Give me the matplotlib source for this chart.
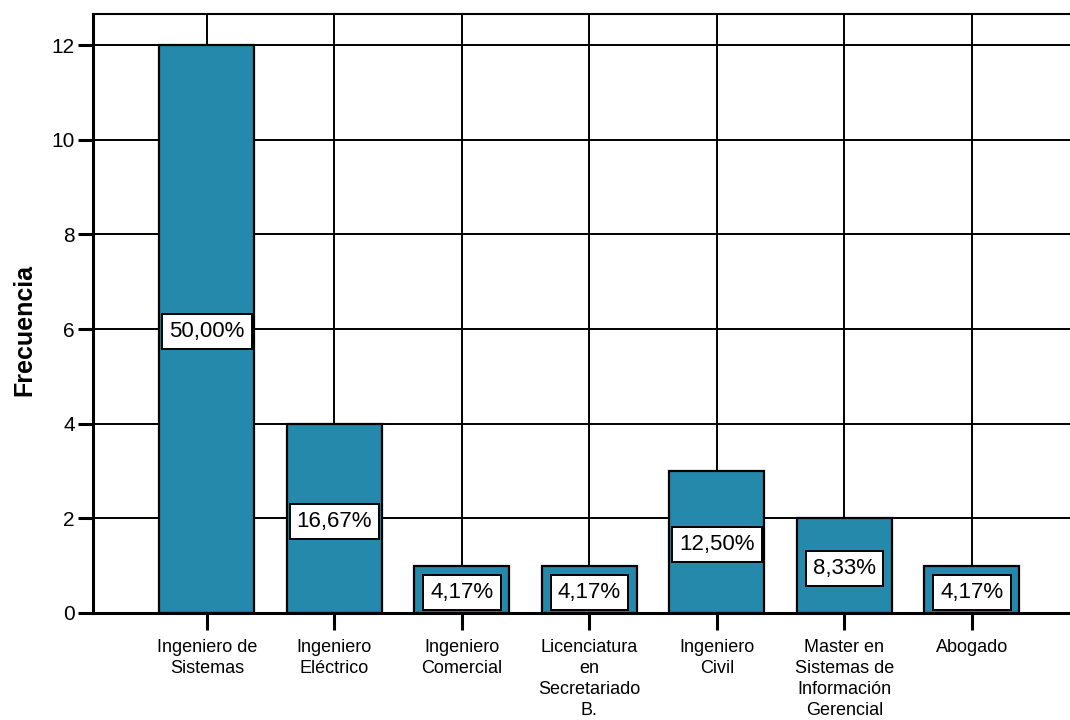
import matplotlib
matplotlib.use("Agg")
import matplotlib.pyplot as plt

carreras = ["Ingeniero de\nSistemas", "Ingeniero\nEléctrico", "Ingeniero\nComercial",
            "Licenciatura\nen\nSecretariado\nB.", "Ingeniero\nCivil",
            "Master en\nSistemas de\nInformación\nGerencial", "Abogado"]
frecuencia = [12, 4, 1, 1, 3, 2, 1]

plt.rcParams['font.family'] = ['Liberation Sans', 'DejaVu Sans']

fig = plt.figure(figsize=(10.7, 7.2), dpi=100)
ax = fig.add_axes([93 / 1070, 107 / 720, 1 - 93 / 1070, (613 - 14) / 720])

x = list(range(len(carreras)))
total = sum(frecuencia)

# grid behind the bars
for v in range(0, 13, 2):
    ax.axhline(v, color="black", lw=1.4, zorder=0)
for xi in x:
    ax.axvline(xi, color="black", lw=1.4, zorder=0)

ax.bar(x, frecuencia, width=0.745, color="#2489aa", edgecolor="black", linewidth=1.6, zorder=2)

for xi, f in zip(x, frecuencia):
    pct = f / total * 100
    txt = f"{pct:.2f}%".replace(".", ",")
    ax.text(xi, f / 2 - 0.06, txt, ha="center", va="center", fontsize=16, zorder=3,
            bbox=dict(boxstyle="square,pad=0.32", facecolor="white", edgecolor="black", linewidth=1.4))

ax.set_xlim(-0.894, 6.77)
ax.set_ylim(0, 12.655)
ax.set_yticks(range(0, 13, 2))
ax.set_xticks(x)
ax.set_xticklabels(carreras, fontsize=13, linespacing=1.3)
ax.tick_params(axis="y", length=11, width=2.2, labelsize=15, pad=2)
ax.tick_params(axis="x", length=12, width=2.2, pad=7)

for s in ["left", "bottom"]:
    ax.spines[s].set_linewidth(2.2)
ax.spines["top"].set_linewidth(1.5)
ax.spines["right"].set_visible(False)

ax.set_ylabel("Frecuencia", fontsize=18, fontweight="bold")
ax.yaxis.set_label_coords(-0.058, 0.472)

fig.savefig("out.png", dpi=100)
